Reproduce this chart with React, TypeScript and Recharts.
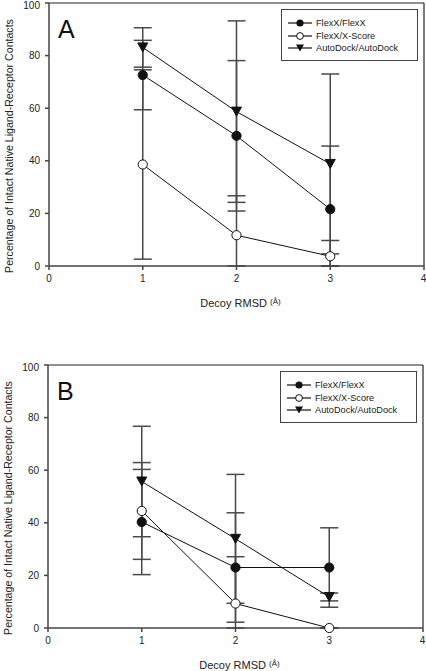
import type { FC } from "react";
import {
  LineChart,
  Line,
  XAxis,
  YAxis,
  ErrorBar,
  ReferenceLine,
} from "recharts";

const RMSD = [1, 2, 3];
const X_TICKS = [0, 1, 2, 3, 4];
const Y_TICKS = [0, 20, 40, 60, 80, 100];

// panel A
const FLEXX_A = [72.6, 49.5, 21.6];
const FLEXX_A_ERR = [13.2, 28.6, 24];
const XSCORE_A = [38.6, 11.7, 3.7];
const XSCORE_A_ERR = [36, 15, 6];
const AUTODOCK_A = [83.1, 58.7, 38.8];
const AUTODOCK_A_ERR = [7.5, 34.5, 34.2];

// panel B
const FLEXX_B = [40.3, 23.0, 23.0];
const FLEXX_B_ERR = [20, 20.8, 15.1];
const XSCORE_B = [44.5, 9.3, 0];
const XSCORE_B_ERR = [18.4, 17.8, 0];
const AUTODOCK_B = [55.7, 33.9, 11.8];
const AUTODOCK_B_ERR = [21, 24.5, 1.5];

const SERIES_NAMES = ["FlexX/FlexX", "FlexX/X-Score", "AutoDock/AutoDock"];

const FONT = "Arial, 'Liberation Sans', sans-serif";
const BAR_COLOR = "#4a4a4a";
const AXIS_COLOR = "#444";

// clamp lower error so the bar stops at the x axis
const errPair = (v: number, e: number): [number, number] => [Math.min(e, v), e];

const buildData = (
  flex: number[],
  flexErr: number[],
  xs: number[],
  xsErr: number[],
  auto: number[],
  autoErr: number[],
) =>
  RMSD.map((x, i) => ({
    x,
    flex: flex[i],
    flexErr: errPair(flex[i], flexErr[i]),
    xs: xs[i],
    xsErr: errPair(xs[i], xsErr[i]),
    auto: auto[i],
    autoErr: errPair(auto[i], autoErr[i]),
  }));

const Triangle = (props: any) => {
  const { cx, cy, index } = props;
  if (cx == null || cy == null) return <g key={`t-${index}`} />;
  return (
    <path
      key={`t-${index}`}
      d={`M${cx - 5},${cy - 4.5} L${cx + 5},${cy - 4.5} L${cx},${cy + 4.5} Z`}
      fill="#111"
      stroke="#111"
    />
  );
};

const LegendIcon: FC<{ kind: number }> = ({ kind }) => (
  <svg width={24} height={10} style={{ display: "block" }}>
    <line x1={0} y1={5} x2={24} y2={5} stroke="#111" strokeWidth={1.2} />
    {kind === 0 && <circle cx={12} cy={5} r={3.6} fill="#111" />}
    {kind === 1 && (
      <circle cx={12} cy={5} r={3.4} fill="#fff" stroke="#111" strokeWidth={1} />
    )}
    {kind === 2 && <path d="M8,1.5 L16,1.5 L12,8.5 Z" fill="#111" />}
  </svg>
);

const LegendBox = () => (
  <div
    style={{
      position: "absolute",
      top: 9,
      left: 281,
      width: 137,
      height: 52,
      boxSizing: "border-box",
      border: "1px solid #444",
      background: "#fff",
      padding: "7px 0 0 6px",
      fontFamily: FONT,
      fontSize: 9.2,
      color: "#222",
    }}
  >
    {SERIES_NAMES.map((name, i) => (
      <div
        key={name}
        style={{ display: "flex", alignItems: "center", height: 12.5 }}
      >
        <LegendIcon kind={i} />
        <span style={{ marginLeft: 4 }}>{name}</span>
      </div>
    ))}
  </div>
);

interface PanelProps {
  letter: string;
  top: number;
  left: number;
  data: ReturnType<typeof buildData>;
}

const Panel: FC<PanelProps> = ({ letter, top, left, data }) => (
  <div style={{ position: "absolute", top, left, width: 426, height: 330 }}>
    <LineChart
      width={426}
      height={330}
      data={data}
      margin={{ top: 3, right: 2, left: 0, bottom: 0 }}
      style={{ fontFamily: FONT }}
    >
      <XAxis
        type="number"
        dataKey="x"
        domain={[0, 4]}
        ticks={X_TICKS}
        height={64}
        stroke={AXIS_COLOR}
        strokeWidth={1.5}
        tickSize={4}
        tickMargin={5}
        tick={{ fontSize: 10, fill: "#222" }}
        label={{
          position: "insideBottom",
          content: (p: any) => {
            const vb = p.viewBox || {};
            const cx = (vb.x ?? 49) + (vb.width ?? 375) / 2 + 4;
            return (
              <text
                x={cx}
                y={307}
                textAnchor="middle"
                fontFamily={FONT}
                fontSize={11}
                fill="#222"
              >
                Decoy RMSD{" "}
                <tspan fontSize={8} dy={-3}>
                  (Å)
                </tspan>
              </text>
            );
          },
        }}
      />
      <YAxis
        type="number"
        domain={[0, 100]}
        ticks={Y_TICKS}
        width={49}
        stroke={AXIS_COLOR}
        strokeWidth={1.5}
        tickSize={4}
        tickMargin={5}
        tick={{ fontSize: 10, fill: "#222" }}
        label={{
          position: "insideLeft",
          content: () => (
            <text
              transform="translate(9,146) rotate(-90)"
              textAnchor="middle"
              dominantBaseline="central"
              fontFamily={FONT}
              fontSize={10.6}
              fill="#222"
            >
              Percentage of Intact Native Ligand-Receptor Contacts
            </text>
          ),
        }}
      />
      <ReferenceLine y={100} stroke="#222" strokeWidth={1.2} />
      <ReferenceLine x={4} stroke="#222" strokeWidth={1.2} />

      {/* error bars first so the markers sit on top */}
      <Line dataKey="auto" stroke="none" dot={false} isAnimationActive={false}>
        <ErrorBar dataKey="autoErr" width={9} stroke={BAR_COLOR} strokeWidth={1.5} direction="y" />
      </Line>
      <Line dataKey="flex" stroke="none" dot={false} isAnimationActive={false}>
        <ErrorBar dataKey="flexErr" width={9} stroke={BAR_COLOR} strokeWidth={1.5} direction="y" />
      </Line>
      <Line dataKey="xs" stroke="none" dot={false} isAnimationActive={false}>
        <ErrorBar dataKey="xsErr" width={9} stroke={BAR_COLOR} strokeWidth={1.5} direction="y" />
      </Line>

      <Line
        dataKey="flex"
        stroke="#111"
        strokeWidth={1}
        dot={{ r: 4.6, fill: "#111", stroke: "#111", strokeWidth: 1 }}
        isAnimationActive={false}
      />
      <Line
        dataKey="xs"
        stroke="#111"
        strokeWidth={1}
        dot={{ r: 4.6, fill: "#fff", stroke: "#111", strokeWidth: 1 }}
        isAnimationActive={false}
      />
      <Line
        dataKey="auto"
        stroke="#111"
        strokeWidth={1}
        dot={Triangle}
        isAnimationActive={false}
      />
    </LineChart>
    <LegendBox />
    <svg
      width={40}
      height={45}
      style={{ position: "absolute", left: 50, top: 0, pointerEvents: "none" }}
    >
      <text x={8} y={37.5} fontFamily={FONT} fontSize={25} fill="#111">
        {letter}
      </text>
    </svg>
  </div>
);

const dataA = buildData(FLEXX_A, FLEXX_A_ERR, XSCORE_A, XSCORE_A_ERR, AUTODOCK_A, AUTODOCK_A_ERR);
const dataB = buildData(FLEXX_B, FLEXX_B_ERR, XSCORE_B, XSCORE_B_ERR, AUTODOCK_B, AUTODOCK_B_ERR);

export default function App() {
  return (
    <div
      style={{
        position: "absolute",
        top: 0,
        left: 0,
        width: 426,
        height: 671,
        overflow: "hidden",
        background: "#fff",
      }}
    >
      <Panel letter="A" top={0} left={0} data={dataA} />
      <Panel letter="B" top={362} left={-1} data={dataB} />
    </div>
  );
}
